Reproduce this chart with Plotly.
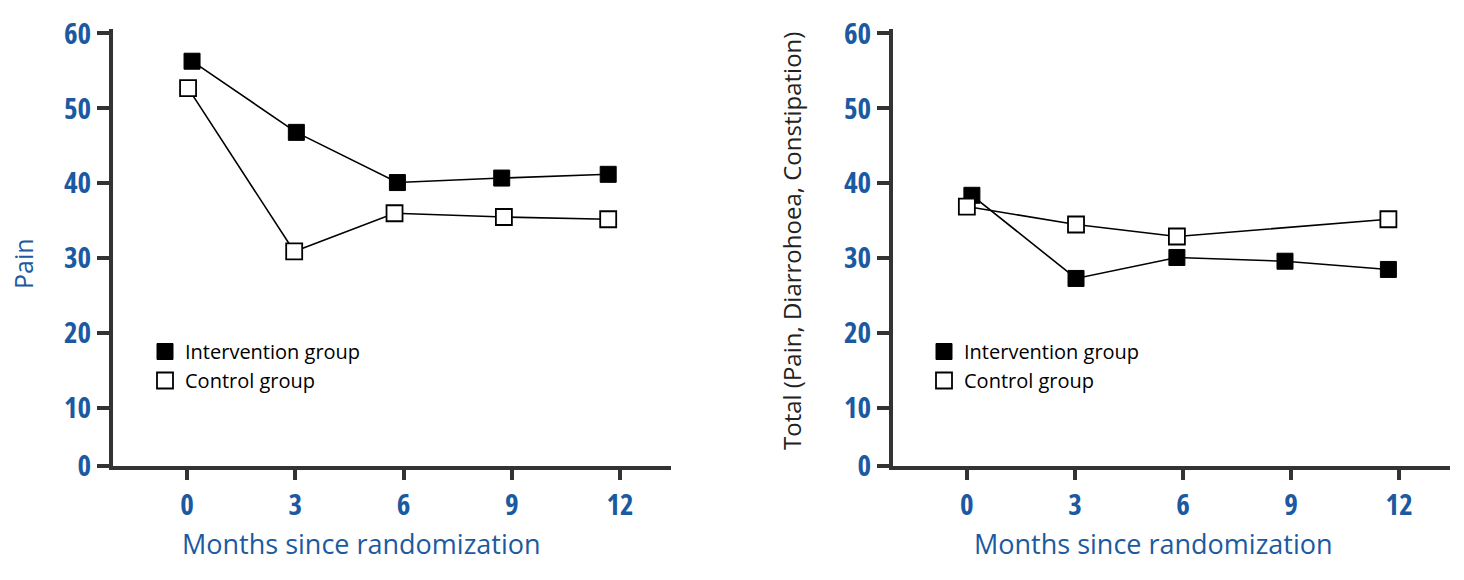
import plotly.graph_objects as go

# months since randomization (mean follow-up at each visit)
MONTHS_INT_PAIN = [0.14, 3.03, 5.83, 8.72, 11.67]
MONTHS_CTRL_PAIN = [0.03, 2.97, 5.75, 8.78, 11.67]
PAIN_INT = [56.3, 46.8, 40.1, 40.7, 41.2]
PAIN_CTRL = [52.7, 30.9, 36.0, 35.5, 35.2]

MONTHS_INT_TOTAL = [0.14, 3.03, 5.83, 8.83, 11.7]
MONTHS_CTRL_TOTAL = [0.0, 3.03, 5.83, 11.7]
TOTAL_INT = [38.4, 27.3, 30.1, 29.6, 28.5]
TOTAL_CTRL = [36.9, 34.5, 32.9, 35.2]

X_TICKS = [0, 3, 6, 9, 12]
X_TICK_LABELS = ["0", "3", "6", "9", "12"]
Y_TICKS = [10, 20, 30, 40, 50, 60]
Y_TICK_LABELS = ["0", "10", "20", "30", "40", "50", "60"]

BLUE = "#1b5aa0"
AXIS = "#333333"
TXT_FONT = "Open Sans, Noto Sans, sans-serif"

Y_RANGE = [2.26, 60.6]
X_RANGE = [-2.05, 13.41]

W, H, PAD = 1464, 580, 8  # page body margin shifts the figure by PAD px


def px(x):
    return (x - PAD) / W


def py(y):
    return (H - (y - PAD)) / H


def narrow(labels):
    # condensed digits, like the original's narrow numeral font
    return ['<span style="font-stretch:75%">' + s + '</span>' for s in labels]


fig = go.Figure()


def add_panel(xa, ya, legend, mx_i, y_i, mx_c, y_c):
    for mx, yy in ((mx_i, y_i), (mx_c, y_c)):
        fig.add_trace(go.Scatter(
            x=mx, y=yy, mode="lines", xaxis=xa, yaxis=ya,
            line=dict(color="black", width=1.6), showlegend=False,
            hoverinfo="skip",
        ))
    fig.add_trace(go.Scatter(
        x=mx_i, y=y_i, mode="markers", xaxis=xa, yaxis=ya, legend=legend,
        name="Intervention group",
        marker=dict(symbol="square", size=16, color="black",
                    line=dict(color="black", width=1)),
    ))
    fig.add_trace(go.Scatter(
        x=mx_c, y=y_c, mode="markers", xaxis=xa, yaxis=ya, legend=legend,
        name="Control group",
        marker=dict(symbol="square", size=16, color="white",
                    line=dict(color="black", width=1.8)),
    ))


add_panel("x", "y", "legend", MONTHS_INT_PAIN, PAIN_INT, MONTHS_CTRL_PAIN, PAIN_CTRL)
add_panel("x2", "y2", "legend2", MONTHS_INT_TOTAL, TOTAL_INT, MONTHS_CTRL_TOTAL, TOTAL_CTRL)

num_font = dict(family="Open Sans", size=29, color=BLUE, weight="bold")

xaxis_style = dict(
    range=X_RANGE, tickvals=X_TICKS, ticktext=narrow(X_TICK_LABELS),
    showgrid=False, zeroline=False,
    showline=True, linecolor=AXIS, linewidth=4, automargin=False,
    ticks="outside", ticklen=10, tickwidth=4, tickcolor=AXIS,
    tickfont=num_font,
)
yaxis_style = dict(
    range=Y_RANGE, tickvals=[Y_RANGE[0]] + Y_TICKS, ticktext=narrow(Y_TICK_LABELS),
    showgrid=False, zeroline=False, automargin=False,
    showline=True, linecolor=AXIS, linewidth=4,
    ticks="outside", ticklen=12, tickwidth=4, tickcolor=AXIS,
    tickfont=num_font,
    domain=[py(466), py(29)],
)

legend_style = dict(
    font=dict(family=TXT_FONT, size=20, color="black"),
    bgcolor="rgba(0,0,0,0)", xanchor="left", yanchor="top",
    tracegroupgap=0, itemclick=False,
)

title_font = dict(family=TXT_FONT, size=27, color=BLUE)

fig.update_layout(
    width=W, height=H,
    margin=dict(l=0, r=0, t=0, b=0),
    paper_bgcolor="white", plot_bgcolor="white",
    xaxis=dict(xaxis_style, domain=[px(113), px(671)], anchor="y"),
    yaxis=dict(yaxis_style, anchor="x"),
    xaxis2=dict(xaxis_style, domain=[px(893), px(1450)], anchor="y2"),
    yaxis2=dict(yaxis_style, anchor="x2"),
    legend=dict(legend_style, x=px(145), y=py(332)),
    legend2=dict(legend_style, x=px(924), y=py(332)),
    annotations=[
        dict(text="Months since randomization", xref="paper", yref="paper",
             x=px(361), y=py(543), xanchor="center", yanchor="middle",
             showarrow=False, font=title_font),
        dict(text="Months since randomization", xref="paper", yref="paper",
             x=px(1153), y=py(543), xanchor="center", yanchor="middle",
             showarrow=False, font=title_font),
        dict(text="Pain", xref="paper", yref="paper", textangle=-90,
             x=px(23), y=py(263), xanchor="center", yanchor="middle",
             showarrow=False, font=dict(family=TXT_FONT, size=25, color=BLUE)),
        dict(text="Total (Pain, Diarrohoea, Constipation)", xref="paper",
             yref="paper", textangle=-90, x=px(792), y=py(241),
             xanchor="center", yanchor="middle", showarrow=False,
             font=dict(family=TXT_FONT, size=24, color="#222222")),
    ],
)

fig.write_html("out.html")
